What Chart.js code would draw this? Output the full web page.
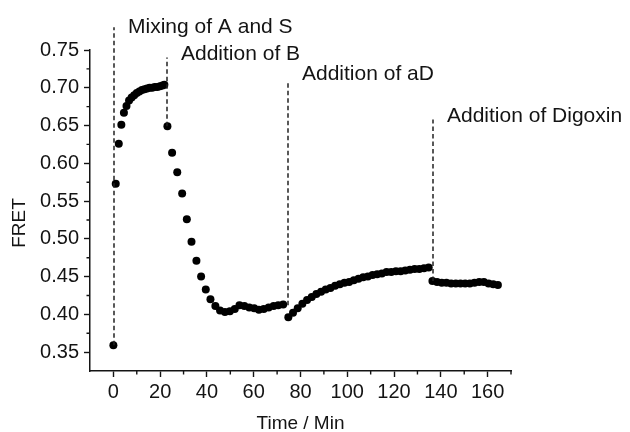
<!DOCTYPE html>
<html>
<head>
<meta charset="utf-8">
<script src="https://cdn.jsdelivr.net/npm/chart.js@4/dist/chart.umd.min.js"></script>
<style>
  body { margin: 0; background: #fff; }
  #wrap { width: 630px; height: 432px; }
</style>
</head>
<body>
<div id="wrap"><canvas id="fretChart"></canvas></div>
<script>
// FRET readings, one pair of arrays per phase (time in min)
const mixTime = [0, 1.0, 2.3, 3.4, 4.5, 5.6, 6.7, 7.8, 8.9, 10.0, 11.1, 12.2, 13.3, 14.4, 15.5, 16.6, 17.7, 18.8, 19.9, 21.0, 21.8];
const mixFret = [0.359, 0.573, 0.626, 0.651, 0.667, 0.676, 0.683, 0.687, 0.690, 0.693, 0.695, 0.697, 0.698, 0.699, 0.700, 0.700, 0.701, 0.701, 0.702, 0.703, 0.704];

const bTime = [23.1, 25.1, 27.3, 29.4, 31.4, 33.4, 35.5, 37.5, 39.5, 41.5, 43.6, 45.6, 47.7, 49.8, 51.9, 53.9, 56.0, 58.1, 60.2, 62.2, 64.3, 66.4, 68.5, 70.5, 72.6];
const bFret = [0.649, 0.614, 0.588, 0.560, 0.526, 0.496, 0.471, 0.450, 0.433, 0.420, 0.411, 0.405, 0.403, 0.404, 0.407, 0.412, 0.411, 0.409, 0.408, 0.406, 0.407, 0.409, 0.411, 0.412, 0.413];

const aDTime = [74.8, 76.8, 78.8, 80.8, 82.8, 84.8, 86.8, 88.8, 90.8, 92.8, 94.8, 96.8, 98.8, 100.8, 102.8, 104.8, 106.8, 108.8, 110.8, 112.8, 114.8, 116.8, 118.8, 120.8, 122.8, 124.8, 126.8, 128.8, 130.8, 132.8, 134.8];
const aDFret = [0.396, 0.402, 0.408, 0.414, 0.419, 0.423, 0.427, 0.430, 0.433, 0.435, 0.438, 0.440, 0.442, 0.443, 0.445, 0.447, 0.449, 0.450, 0.452, 0.453, 0.454, 0.456, 0.456, 0.457, 0.457, 0.458, 0.459, 0.460, 0.460, 0.461, 0.462];

const digTime = [136.4, 138.4, 140.4, 142.4, 144.4, 146.4, 148.4, 150.4, 152.4, 154.4, 156.4, 158.4, 160.4, 162.4, 164.4];
const digFret = [0.444, 0.443, 0.442, 0.442, 0.441, 0.441, 0.441, 0.441, 0.441, 0.442, 0.443, 0.443, 0.441, 0.440, 0.439];

// additions: when, and the FRET span the dashed marker covers
const eventTimes = [0.3, 23.1, 74.7, 136.5];
const eventLabels = ['Mixing of A and S', 'Addition of B', 'Addition of aD', 'Addition of Digoxin'];
const eventFrom = [0.359, 0.649, 0.412, 0.444];
const eventTo = [0.780, 0.740, 0.707, 0.658];

// labelled ticks
const xMajor = [0, 20, 40, 60, 80, 100, 120, 140, 160];
const yMajor = [0.35, 0.40, 0.45, 0.50, 0.55, 0.60, 0.65, 0.70, 0.75];

const INK = '#141414';
const FONT = "'Liberation Sans', Arial, sans-serif";

function pairs(xs, ys) {
    return xs.map((t, i) => ({ x: t, y: ys[i] }));
}

function isMajorY(v) {
    return yMajor.find(m => Math.abs(m - v) < 1e-6);
}

const annotations = {
    id: 'annotations',
    afterDraw(chart, args, opts) {
        const { ctx, chartArea } = chart;
        const x = chart.scales.x, y = chart.scales.y;
        ctx.save();

        // short minor ticks
        ctx.strokeStyle = INK;
        ctx.lineWidth = 1.4;
        ctx.beginPath();
        x.ticks.forEach(t => {
            if (xMajor.includes(t.value) || t.value === x.min) return;
            const px = x.getPixelForValue(t.value);
            ctx.moveTo(px, chartArea.bottom);
            ctx.lineTo(px, chartArea.bottom + 3.5);
        });
        y.ticks.forEach(t => {
            if (isMajorY(t.value) !== undefined || Math.abs(t.value - y.min) < 1e-6) return;
            const py = y.getPixelForValue(t.value);
            ctx.moveTo(chartArea.left, py);
            ctx.lineTo(chartArea.left - 3.5, py);
        });
        ctx.stroke();

        // dashed markers and their captions
        ctx.setLineDash([4.5, 3]);
        ctx.lineWidth = 1.5;
        ctx.strokeStyle = '#222';
        ctx.fillStyle = INK;
        ctx.font = '21px ' + FONT;
        ctx.textBaseline = 'alphabetic';
        ctx.textAlign = 'left';
        eventTimes.forEach((t, i) => {
            const px = Math.round(x.getPixelForValue(t));
            const top = y.getPixelForValue(eventTo[i]);
            ctx.beginPath();
            ctx.moveTo(px, y.getPixelForValue(eventFrom[i]));
            ctx.lineTo(px, top);
            ctx.stroke();
            ctx.fillText(eventLabels[i], px + 14, top + opts.labelDy[i]);
        });

        // y axis title
        ctx.setLineDash([]);
        ctx.font = '19px ' + FONT;
        ctx.textAlign = 'center';
        ctx.textBaseline = 'middle';
        ctx.translate(20, 223);
        ctx.rotate(-Math.PI / 2);
        ctx.fillText('FRET', 0, 0);
        ctx.restore();
    }
};

const ctx = document.getElementById('fretChart').getContext('2d');
new Chart(ctx, {
    type: 'scatter',
    data: {
        datasets: [
            { data: pairs(mixTime, mixFret) },
            { data: pairs(bTime, bFret) },
            { data: pairs(aDTime, aDFret) },
            { data: pairs(digTime, digFret) }
        ]
    },
    options: {
        responsive: true,
        maintainAspectRatio: false,
        animation: false,
        layout: { padding: { top: 50, right: 119, left: 0, bottom: 0 } },
        elements: {
            point: { radius: 4, backgroundColor: '#000', borderWidth: 0, hoverRadius: 4 }
        },
        plugins: {
            legend: { display: false },
            tooltip: { enabled: false },
            annotations: { labelDy: [6, 2, -2, 3] }
        },
        scales: {
            x: {
                type: 'linear',
                min: -10,
                max: 170,
                afterFit: s => { s.height = 61; },
                border: { color: INK, width: 1.5 },
                grid: {
                    drawOnChartArea: false,
                    tickLength: 6,
                    tickWidth: 1.4,
                    tickColor: c => xMajor.includes(c.tick.value) ? INK : 'transparent'
                },
                ticks: {
                    stepSize: 10,
                    autoSkip: false,
                    maxRotation: 0,
                    padding: 3,
                    color: INK,
                    font: { family: FONT, size: 20 },
                    callback: v => xMajor.includes(v) ? String(v) : ''
                },
                title: {
                    display: true,
                    text: 'Time / Min',
                    color: INK,
                    font: { family: FONT, size: 19, lineHeight: 1 },
                    padding: { top: 0, bottom: -1 }
                }
            },
            y: {
                min: 0.325,
                max: 0.75,
                afterFit: s => { s.width = 90; },
                border: { color: INK, width: 1.5 },
                grid: {
                    drawOnChartArea: false,
                    tickLength: 6,
                    tickWidth: 1.4,
                    tickColor: c => isMajorY(c.tick.value) !== undefined ? INK : 'transparent'
                },
                ticks: {
                    stepSize: 0.025,
                    autoSkip: false,
                    padding: 5,
                    color: INK,
                    font: { family: FONT, size: 20 },
                    callback: v => {
                        const m = isMajorY(v);
                        return m !== undefined ? m.toFixed(2) : '';
                    }
                }
            }
        }
    },
    plugins: [annotations]
});
</script>
</body>
</html>
